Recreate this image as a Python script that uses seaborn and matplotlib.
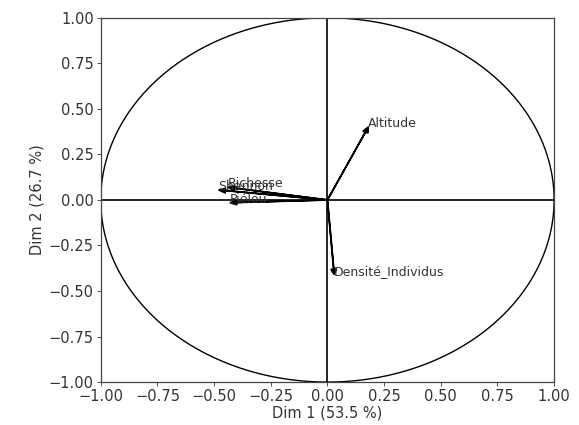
import numpy as np
import pandas as pd
import matplotlib
matplotlib.use("Agg")
import matplotlib.pyplot as plt
import seaborn as sns

variables = ["Richesse", "Shannon", "Piélou", "Altitude", "Densité_Individus"]
dim1 = [-0.44, -0.48, -0.43, 0.18, 0.03]
dim2 = [0.07, 0.055, -0.015, 0.40, -0.41]
xlabel = "Dim 1 (53.5 %)"
ylabel = "Dim 2 (26.7 %)"
ticks = [-1.00, -0.75, -0.50, -0.25, 0.00, 0.25, 0.50, 0.75, 1.00]

sns.set_theme(style="ticks")
plt.rcParams["font.family"] = ["DejaVu Sans"]

fig = plt.figure(figsize=(5.79, 4.25), dpi=100)
ax = fig.add_axes([0.174, 0.101, 0.783, 0.857])

theta = np.linspace(0, 2 * np.pi, 400)
circ = pd.DataFrame({"x": np.cos(theta), "y": np.sin(theta)})
sns.lineplot(data=circ, x="x", y="y", sort=False, estimator=None, color="black",
             linewidth=1.0, ax=ax)

df = pd.DataFrame({"var": variables, "d1": dim1, "d2": dim2})
for _, r in df.iterrows():
    ax.arrow(0, 0, r.d1, r.d2, head_width=0.025, head_length=0.03,
             length_includes_head=True, color="black", linewidth=1.2)
    ax.text(r.d1, r.d2, r["var"], fontsize=9, color="#333333")

ax.axhline(0, color="black", linewidth=1.2)
ax.axvline(0, color="black", linewidth=1.2)
ax.set_xlim(-1, 1)
ax.set_ylim(-1, 1)
ax.set_xticks(ticks)
ax.set_yticks(ticks)
ax.set_xticklabels([f"{t:.2f}".replace("-", "\u2212") for t in ticks])
ax.set_yticklabels([f"{t:.2f}".replace("-", "\u2212") for t in ticks])
ax.tick_params(labelsize=10.5, colors="#333333", length=3, width=0.6, pad=2)
for s in ax.spines.values():
    s.set_color("#444444")
    s.set_linewidth(0.9)
ax.set_xlabel(xlabel, fontsize=10.5, color="#333333", labelpad=1)
ax.set_ylabel(ylabel, fontsize=10.5, color="#333333", labelpad=3)

fig.savefig("out.png", dpi=100)
